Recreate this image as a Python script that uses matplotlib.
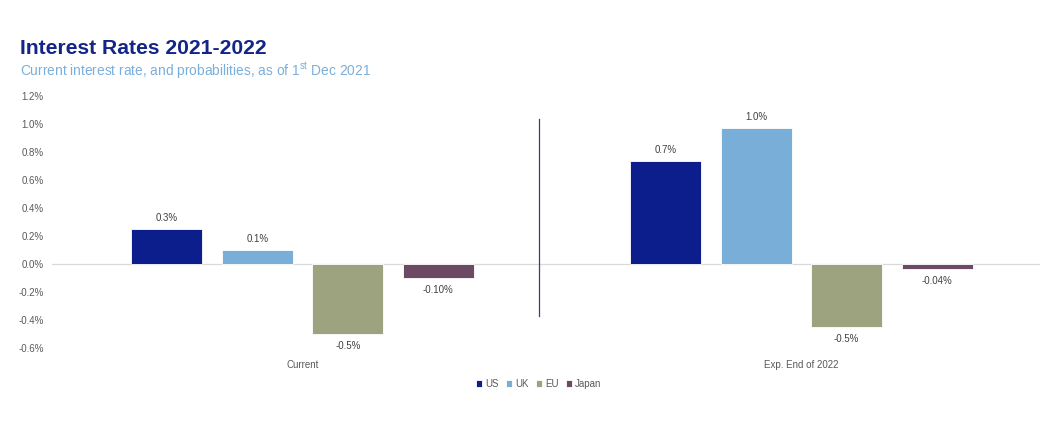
import matplotlib.pyplot as plt
import numpy as np

plt.rcParams['font.family'] = ['Liberation Sans', 'DejaVu Sans']
plt.rcParams['mathtext.fontset'] = 'custom'
plt.rcParams['mathtext.rm'] = 'Liberation Sans'

categories = ["Current", "Exp. End of 2022"]
series = ["US", "UK", "EU", "Japan"]
values = {
    "US": [0.25, 0.73],
    "UK": [0.10, 0.97],
    "EU": [-0.50, -0.45],
    "Japan": [-0.10, -0.035],
}
labels = {
    "US": ["0.3%", "0.7%"],
    "UK": ["0.1%", "1.0%"],
    "EU": ["-0.5%", "-0.5%"],
    "Japan": ["-0.10%", "-0.04%"],
}
colors = {"US": "#0c1e8c", "UK": "#79aed9", "EU": "#9da37f", "Japan": "#6d4a63"}
yticks = np.arange(-0.6, 1.21, 0.2)

fig = plt.figure(figsize=(10.4, 4.3), dpi=100)
ax = fig.add_axes([52 / 1040, 1 - 348 / 430, 988 / 1040, (348 - 95.5) / 430])

x = np.arange(len(categories))
width = 0.1423
step = 0.1814
for i, s in enumerate(series):
    pos = x + (i - 1.5) * step
    ax.bar(pos, values[s], width, color=colors[s], label=s,
           edgecolor="white", linewidth=0.6, zorder=3)
    for xp, v, lab in zip(pos, values[s], labels[s]):
        off = 8 if v >= 0 else -8.6
        ax.annotate(lab, (xp, v), xytext=(0, off), textcoords="offset points",
                    ha="center", va="center", fontsize=7, color="#404040")

ax.axhline(0, color="#d9d9d9", linewidth=0.9, zorder=2)
# divider between the two groups
ax.plot([0.474, 0.474], [1.03, -0.37], color="#3a3f7a", linewidth=0.9, zorder=4)

ax.set_xlim(-0.502, 1.478)
ax.set_ylim(-0.6, 1.2)
ax.set_yticks(yticks)
ax.set_yticklabels([f"{t:.1f}%" for t in yticks])
ax.set_xticks(x)
ax.set_xticklabels(categories)
ax.tick_params(axis="both", length=0, labelsize=7, labelcolor="#595959")
ax.tick_params(axis="y", pad=6)
ax.tick_params(axis="x", pad=9)
for sp in ax.spines.values():
    sp.set_visible(False)

fig.text(20 / 1040, 1 - 49 / 430, "Interest Rates 2021-2022", fontsize=15.2,
         fontweight="bold", color="#14258a", va="center", ha="left")
fig.text(20 / 1040, 1 - 71 / 430,
         r"Current interest rate, and probabilities, as of 1$^{\mathrm{st}}$ Dec 2021",
         fontsize=9.9, color="#7aaedb", va="center", ha="left")

fig.legend(loc="center", bbox_to_anchor=(0.518, 1 - 384 / 430), ncol=4,
           frameon=False, fontsize=7, handlelength=0.6, handleheight=0.6,
           handletextpad=0.3, columnspacing=0.8, labelcolor="#595959")

fig.savefig("out.png", dpi=100)
